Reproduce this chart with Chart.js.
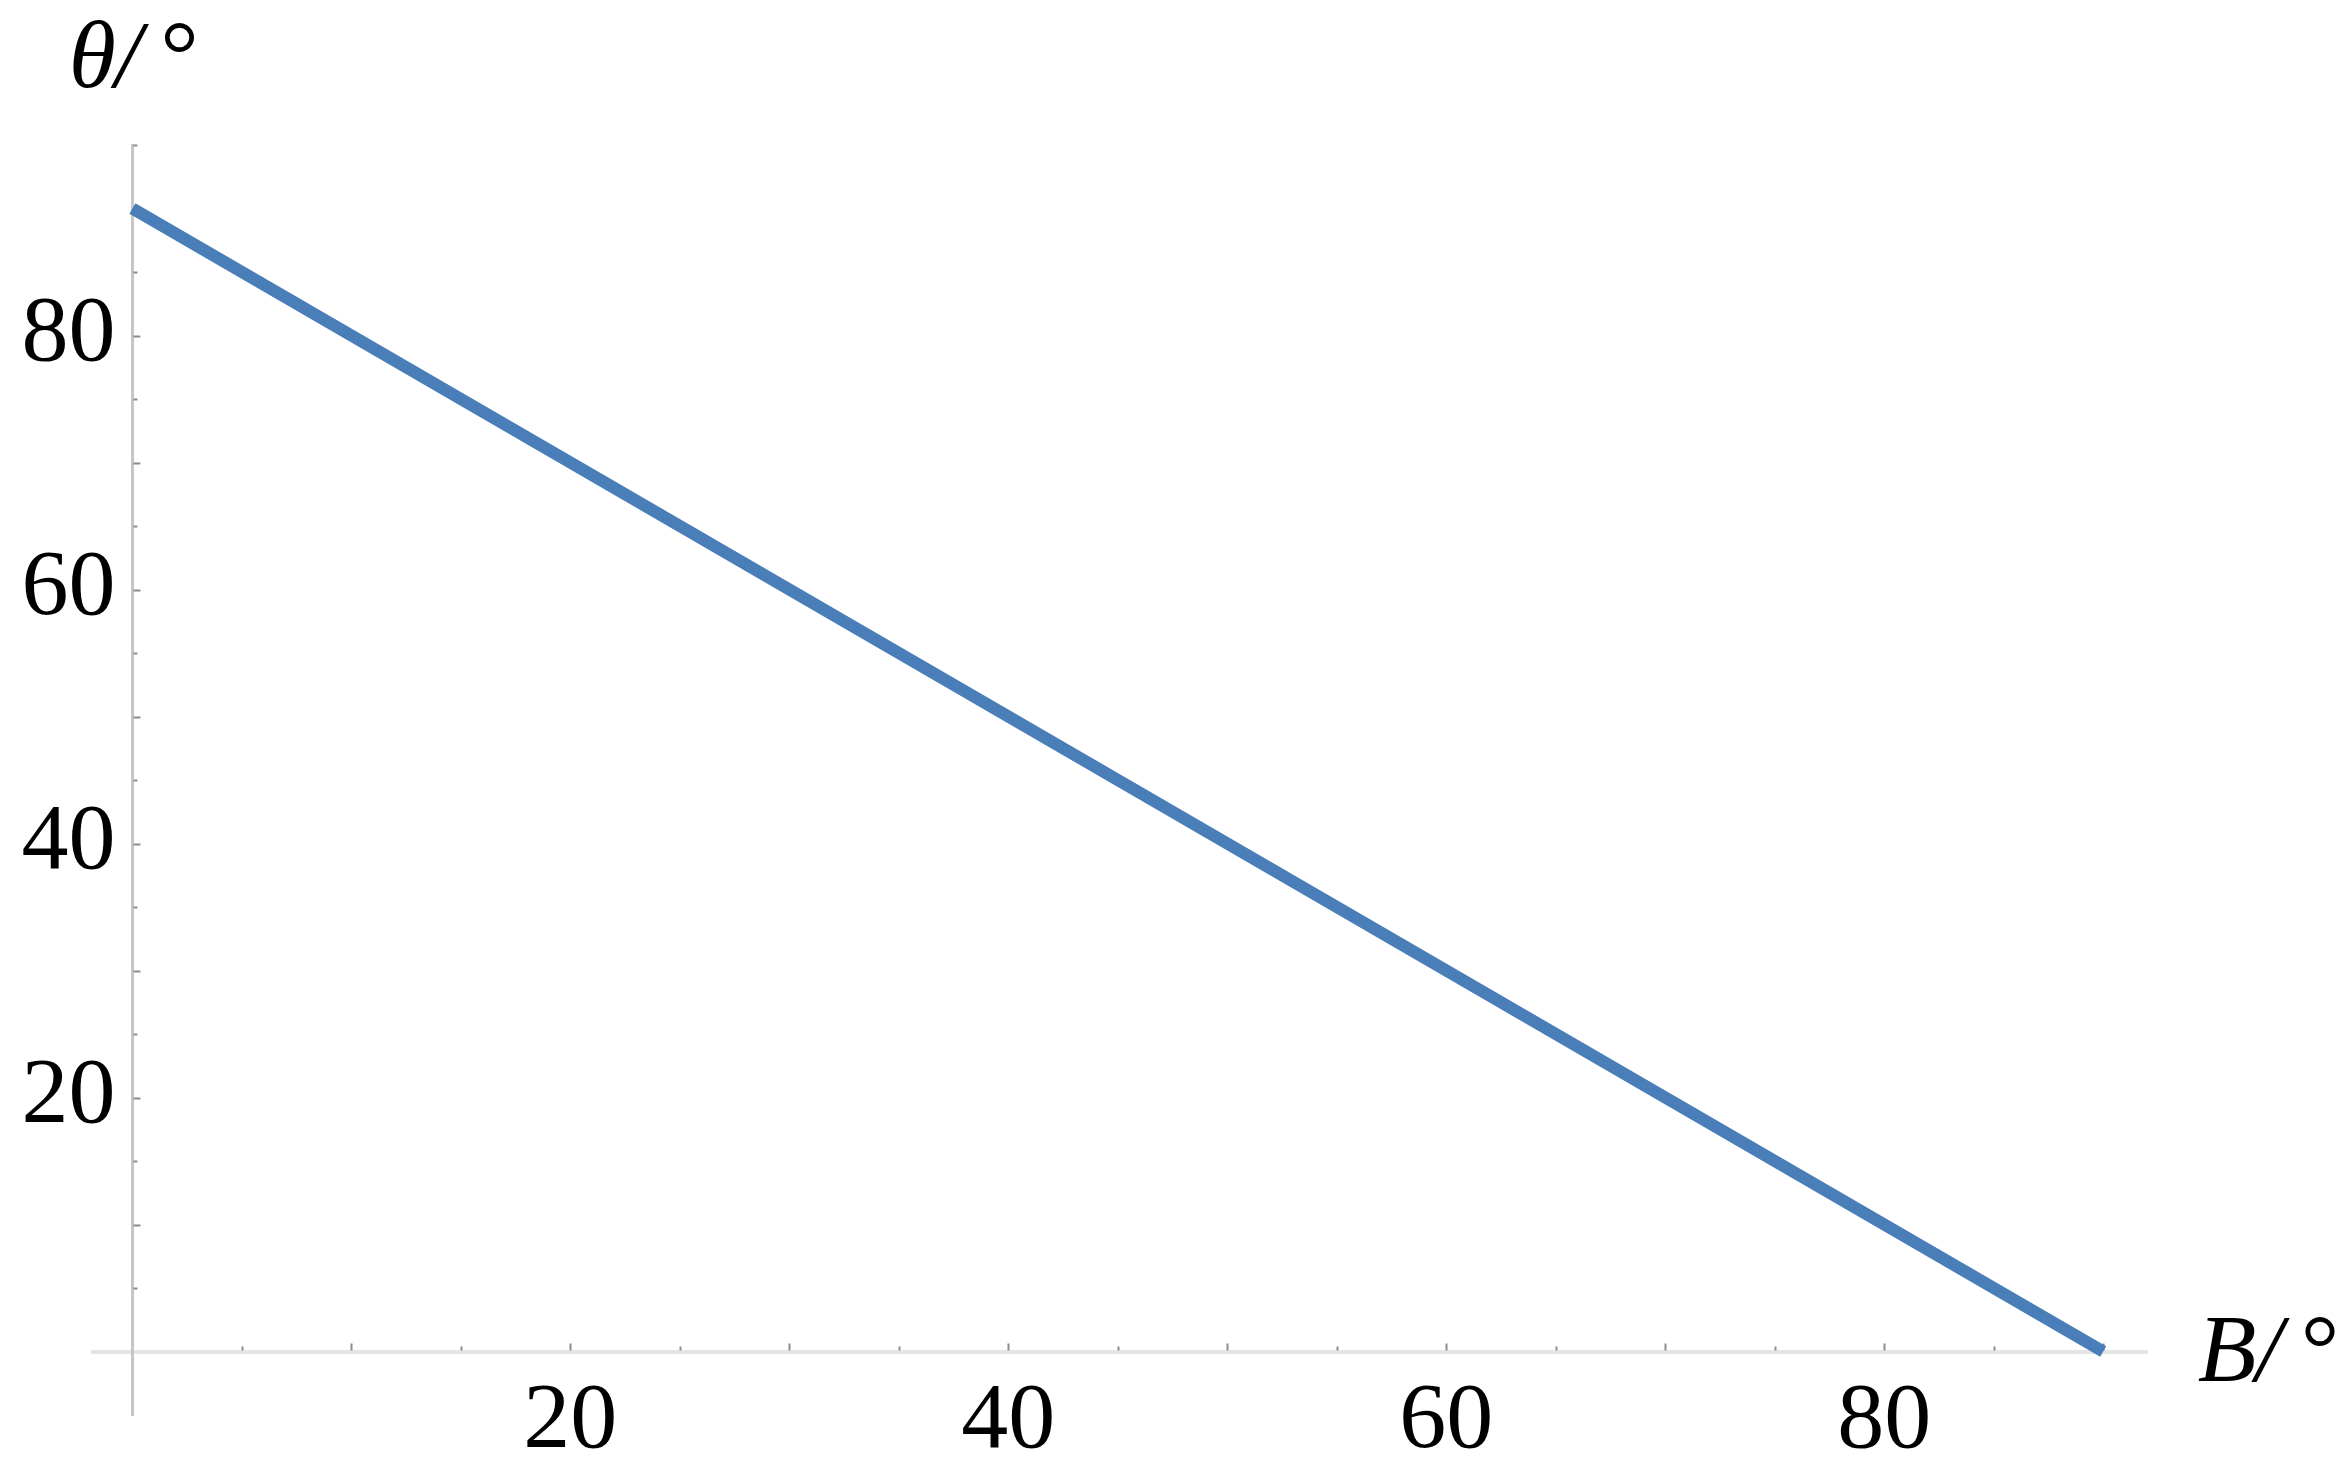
<!DOCTYPE html>
<html><head><meta charset="utf-8">
<script src="https://cdn.jsdelivr.net/npm/chart.js@4.4.1/dist/chart.umd.min.js"></script>
<style>html,body{margin:0;padding:0;background:#fff;overflow:hidden}#wrap{width:2349px;height:1484px}</style>
</head><body><div id="wrap"><canvas id="c" width="2349" height="1484"></canvas></div>
<script>
// Data
const bValues     = [0, 10, 20, 30, 40, 50, 60, 70, 80, 90];
const thetaValues = [90, 80, 70, 60, 50, 40, 30, 20, 10, 0];
// Tick labels
const xTickLabels = [20, 40, 60, 80];
const yTickLabels = [20, 40, 60, 80];
// Minor tick values
const xMinorTicks = [5, 10, 15, 20, 25, 30, 35, 40, 45, 50, 55, 60, 65, 70, 75, 80, 85, 90];
const yMinorTicks = [5, 10, 15, 20, 25, 30, 35, 40, 45, 50, 55, 60, 65, 70, 75, 80, 85, 90, 95];
// Axis titles
const xTitleParts = ['B', '/', '°'];
const yTitleParts = ['θ', '/', '°'];

const TICK_FONT = {family: '"Liberation Serif", "Times New Roman", serif', size: 94, lineHeight: 1};
const Y_LABEL_GAP = 17;

const axisDecor = {
  id: 'axisDecor',
  beforeDraw(chart) {
    // centred y axis ignores ticks.padding: move its labels left of the axis line
    const y = chart.scales.y;
    const items = y.getLabelItems(chart.chartArea);
    if (!items._shifted) {
      items.forEach(it => { it.options.translation[0] -= Y_LABEL_GAP; });
      items._shifted = true;
    }
  },
  beforeDatasetsDraw(chart) {
    const {ctx, scales: {x, y}} = chart;
    const x0 = x.getPixelForValue(0), y0 = y.getPixelForValue(0);
    ctx.save();
    ctx.strokeStyle = '#8a8a8a';
    ctx.lineWidth = 2;
    xMinorTicks.forEach(v => {
      const px = Math.round(x.getPixelForValue(v)) + 0.5;
      const len = v % 10 === 0 ? 7 : 4;
      ctx.beginPath(); ctx.moveTo(px, y0 - 1); ctx.lineTo(px, y0 - 1 - len); ctx.stroke();
    });
    yMinorTicks.forEach(v => {
      const py = Math.round(y.getPixelForValue(v)) + 0.5;
      const len = v % 10 === 0 ? 7 : 4;
      ctx.beginPath(); ctx.moveTo(x0 + 1, py); ctx.lineTo(x0 + 1 + len, py); ctx.stroke();
    });
    ctx.restore();
  },
  afterDraw(chart) {
    const {ctx, scales: {x, y}} = chart;
    const x0 = x.getPixelForValue(0), y0 = y.getPixelForValue(0);
    ctx.save();
    ctx.fillStyle = '#000';
    ctx.textAlign = 'center';
    ctx.textBaseline = 'alphabetic';
    ctx.font = 'italic 96px "Liberation Serif", "Times New Roman", serif';
    const yt = y.top - 58;
    const yOff = [-40, -4, 44];
    yTitleParts.forEach((t, i) => ctx.fillText(t, x0 + yOff[i], yt));
    const xOff = [80, 122, 170];
    xTitleParts.forEach((t, i) => ctx.fillText(t, x.right + xOff[i], y0 + 29));
    ctx.restore();
  }
};

new Chart(document.getElementById('c'), {
  type: 'line',
  data: {
    datasets: [{
      data: bValues.map((b, i) => ({x: b, y: thetaValues[i]})),
      borderColor: '#4a7eb9',
      borderWidth: 12,
      pointRadius: 0,
      fill: false,
      tension: 0
    }]
  },
  options: {
    responsive: false,
    animation: false,
    devicePixelRatio: 1,
    layout: {padding: {left: 93, right: 202, top: 145, bottom: 69}},
    plugins: {legend: {display: false}, tooltip: {enabled: false}},
    scales: {
      x: {
        type: 'linear',
        position: {y: 0},
        min: -1.8, max: 92,
        afterFit(s) { s.height = 0; },
        afterBuildTicks(s) { s.ticks = xTickLabels.map(v => ({value: v})); },
        grid: {display: false, drawTicks: false},
        border: {display: true, color: '#e4e4e4', width: 4},
        ticks: {font: TICK_FONT, color: '#000', padding: 24, maxRotation: 0, autoSkip: false}
      },
      y: {
        type: 'linear',
        position: {x: 0},
        min: -5, max: 95,
        afterFit(s) { s.width = 0; },
        afterBuildTicks(s) { s.ticks = yTickLabels.map(v => ({value: v})); },
        grid: {display: false, drawTicks: false},
        border: {display: true, color: '#c6c6c6', width: 3},
        ticks: {font: TICK_FONT, color: '#000', padding: 0, autoSkip: false}
      }
    }
  },
  plugins: [axisDecor]
});
</script>
</body></html>
